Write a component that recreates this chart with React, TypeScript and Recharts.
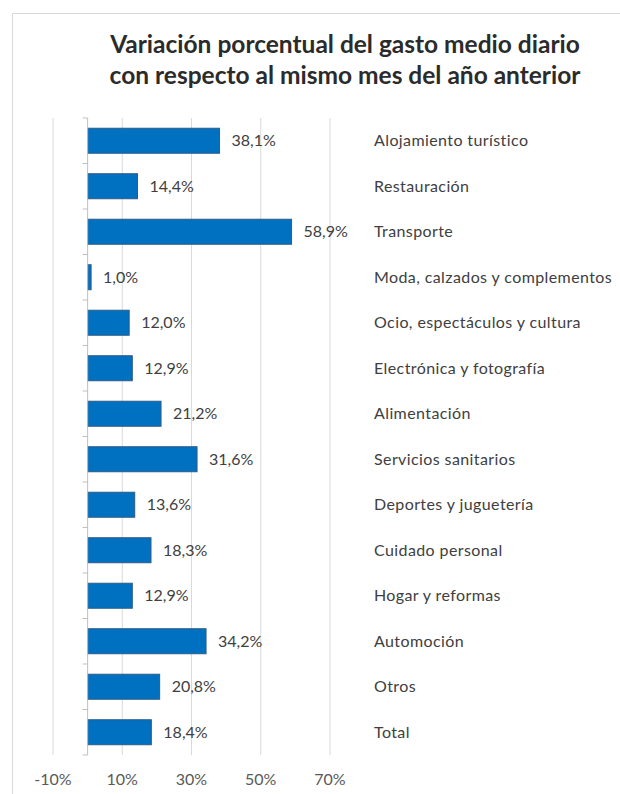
import React from 'react';
import { BarChart, Bar, XAxis, YAxis, CartesianGrid, ReferenceLine, LabelList } from 'recharts';

const categories = [
  'Alojamiento turístico',
  'Restauración',
  'Transporte',
  'Moda, calzados y complementos',
  'Ocio, espectáculos y cultura',
  'Electrónica y fotografía',
  'Alimentación',
  'Servicios sanitarios',
  'Deportes y juguetería',
  'Cuidado personal',
  'Hogar y reformas',
  'Automoción',
  'Otros',
  'Total',
];
const values = [38.1, 14.4, 58.9, 1.0, 12.0, 12.9, 21.2, 31.6, 13.6, 18.3, 12.9, 34.2, 20.8, 18.4];
const xTicks = [-10, 10, 30, 50, 70];
const titleLines = ['Variación porcentual del gasto medio diario', 'con respecto al mismo mes del año anterior'];

const data = categories.map((name, i) => ({ name, value: values[i] }));

const W = 620;
const H = 794;
const PLOT_TOP = 118;
const PLOT_BOTTOM = 755;
const BAND = (PLOT_BOTTOM - PLOT_TOP) / categories.length;
const FONT = 'Lato, "Open Sans", sans-serif';

const fmt = (v: number) => v.toFixed(1).replace('.', ',') + '%';

const BarShape = (props: any) => {
  const { x, y, width, height, index } = props;
  const cy = y + height / 2;
  const top = cy - BAND / 2;
  const bottom = cy + BAND / 2;
  return (
    <g>
      <rect x={x} y={y} width={width} height={height} fill="#0070C0" stroke="#2F5B85" strokeWidth={1} />
      <line x1={x - 5} x2={x} y1={top} y2={top} stroke="#bfbfbf" strokeWidth={1} />
      {index === categories.length - 1 && (
        <line x1={x - 5} x2={x} y1={bottom} y2={bottom} stroke="#bfbfbf" strokeWidth={1} />
      )}
    </g>
  );
};

export default function App() {
  return (
    <div style={{ position: 'absolute', left: 0, top: 0, width: W, height: H, overflow: 'hidden', background: '#fff' }}>
      <div
        style={{
          position: 'absolute',
          left: 12,
          top: 13,
          width: 700,
          height: 900,
          borderLeft: '1px solid #d9d9d9',
          borderTop: '1px solid #d9d9d9',
        }}
      />
      <div
        style={{
          position: 'absolute',
          left: 70,
          top: 28,
          width: 550,
          textAlign: 'center',
          fontFamily: FONT,
          fontWeight: 700,
          fontSize: 24.5,
          lineHeight: '31px',
          color: '#2b2b2b',
          whiteSpace: 'nowrap',
        }}
      >
        {titleLines.map((t) => (
          <div key={t}>{t}</div>
        ))}
      </div>
      <div style={{ position: 'absolute', left: 0, top: 0 }}>
        <BarChart
          width={W}
          height={H}
          data={data}
          layout="vertical"
          margin={{ top: PLOT_TOP, right: 0, bottom: H - PLOT_BOTTOM - 30, left: 53 }}
          barCategoryGap="22.5%"
        >
          <CartesianGrid horizontal={false} stroke="#d9d9d9" />
          <XAxis
            type="number"
            domain={[-10, 70]}
            ticks={xTicks}
            axisLine={false}
            tickLine={false}
            height={30}
            tickMargin={13}
            tickFormatter={(v: number) => `${v}%`}
            tick={{ fill: '#595959', fontSize: 16, fontFamily: FONT }}
          />
          <YAxis
            type="category"
            dataKey="name"
            orientation="right"
            width={290}
            axisLine={false}
            tickLine={false}
            tickSize={0}
            tickMargin={44}
            interval={0}
            tick={{ fill: '#404040', fontSize: 16, fontFamily: FONT, letterSpacing: 0.4 }}
          />
          <ReferenceLine x={0} stroke="#bfbfbf" strokeWidth={1} />
          <Bar dataKey="value" isAnimationActive={false} shape={BarShape}>
            <LabelList
              dataKey="value"
              position="right"
              offset={12}
              formatter={(v: any) => fmt(Number(v))}
              style={{ fill: '#404040', fontSize: 16, fontFamily: FONT }}
            />
          </Bar>
        </BarChart>
      </div>
    </div>
  );
}
